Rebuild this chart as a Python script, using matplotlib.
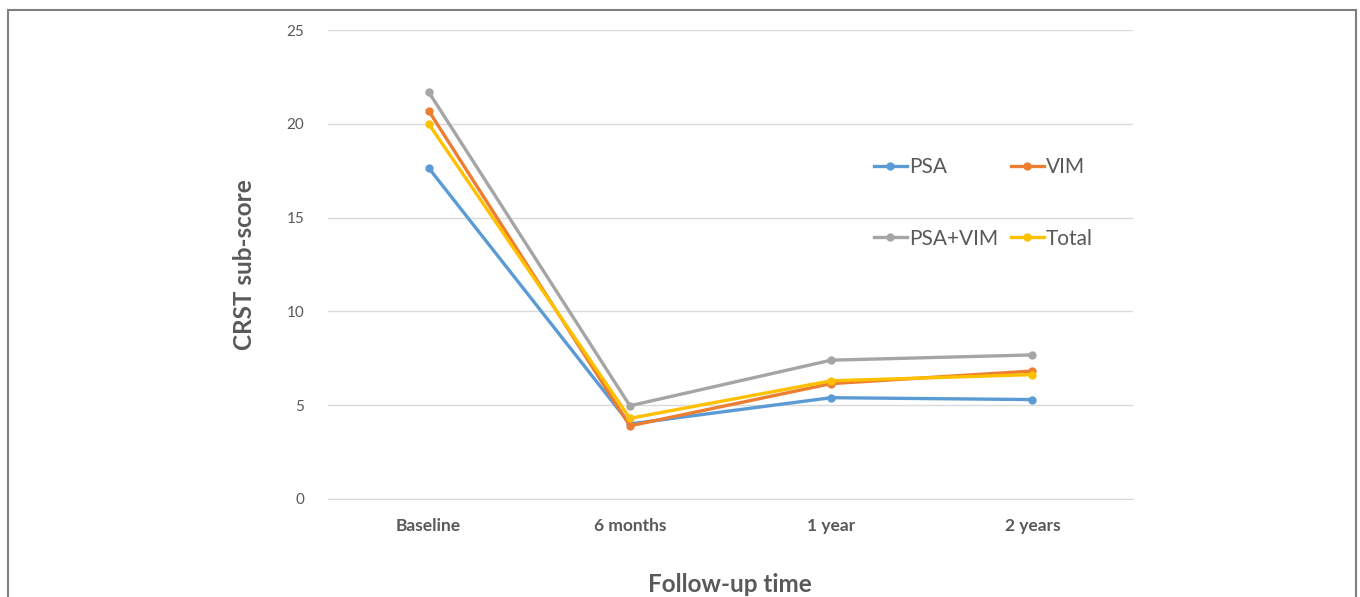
import matplotlib
matplotlib.use("Agg")
import matplotlib.pyplot as plt
from matplotlib.patches import Rectangle

plt.rcParams['font.family'] = ['Lato', 'DejaVu Sans']

categories = ["Baseline", "6 months", "1 year", "2 years"]
psa = [17.65, 4.0, 5.4, 5.3]
vim = [20.7, 3.9, 6.15, 6.82]
psa_vim = [21.7, 4.97, 7.4, 7.68]
total = [20.0, 4.3, 6.3, 6.63]
yticks = [0, 5, 10, 15, 20, 25]

series = [("PSA", psa, "#5B9BD5"), ("VIM", vim, "#ED7D31"),
          ("PSA+VIM", psa_vim, "#A5A5A5"), ("Total", total, "#FFC000")]

fig = plt.figure(figsize=(13.6, 5.97), dpi=100)
ax = fig.add_axes([328/1360, 1-499/597, (1133-328)/1360, (499-30)/597])

x = list(range(len(categories)))
handles = {}
for name, vals, col in series:
    h, = ax.plot(x, vals, color=col, lw=2.4, marker='o', ms=5, label=name, zorder=3)
    handles[name] = h

ax.set_xlim(-0.5, len(categories)-0.5)
ax.set_ylim(0, 25)
ax.set_yticks(yticks)
ax.set_xticks(x)
ax.set_xticklabels(categories, fontsize=12.5, fontweight='bold', color='#595959')
ax.tick_params(axis='y', labelsize=11, labelcolor='#595959', length=0, pad=17)
ax.tick_params(axis='x', length=0, pad=14)
ax.grid(axis='y', color='#D9D9D9', lw=1)
ax.set_axisbelow(True)
for s in ax.spines.values():
    s.set_visible(False)
ax.spines['bottom'].set_visible(True)
ax.spines['bottom'].set_color('#D9D9D9')

ax.set_ylabel("CRST sub-score", fontsize=17.5, fontweight='bold', color='#595959', labelpad=22)
fig.text(730/1360, 1-585/597, "Follow-up time", fontsize=17.5, fontweight='bold',
         color='#595959', ha='center', va='center')

order = ["PSA", "PSA+VIM", "VIM", "Total"]
leg = ax.legend([handles[n] for n in order], order, ncol=2, frameon=False, fontsize=15,
                loc='center left',
                bbox_to_anchor=((855-328)/805, 1-(203-30)/469),
                handlelength=1.6, handletextpad=0.1, columnspacing=0.6,
                labelspacing=2.45)
for t in leg.get_texts():
    t.set_color('#595959')

fig.patches.append(Rectangle((8/1360, -0.05), (1356-8)/1360, 1.05-10/597,
                             transform=fig.transFigure, fill=False,
                             edgecolor='#7F7F7F', lw=1.5, clip_on=False))

fig.savefig("out.png", dpi=100)
